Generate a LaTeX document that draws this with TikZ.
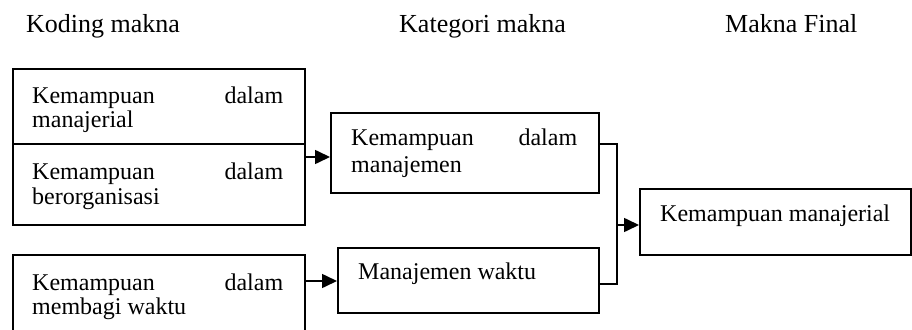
\documentclass[tikz,border=0pt]{standalone}
\usepackage{fontspec}
\setmainfont{Liberation Serif}
\usetikzlibrary{arrows.meta}
\begin{document}
\begin{tikzpicture}[x=1pt,y=-1pt,
  box/.style={draw,line width=1.6pt,inner sep=0pt,anchor=north west},
  txt/.style={anchor=base west,inner sep=0pt,font=\fontsize{24}{24}\selectfont},
  head/.style={anchor=base west,inner sep=0pt,font=\fontsize{26}{26}\selectfont},
  conn/.style={line width=1.6pt},
  arr/.style={conn,-{Triangle[length=15pt,width=14pt]}}]
\clip (0,0) rectangle (912,329);
\useasboundingbox (0,0) rectangle (912,329);
% headers
\node[head] (h1) at (26,33) {Koding makna};
\node[head] (h2) at (399,33) {Kategori makna};
\node[head] (h3) at (725,33) {Makna Final};
% boxes
\node[box,minimum width=292pt,minimum height=75pt] (a) at (12,68) {};
\node[box,minimum width=292pt,minimum height=81pt] (b) at (12,143) {};
\node[box,minimum width=292pt,minimum height=95pt] (c) at (12,254) {};
\node[box,minimum width=268pt,minimum height=80pt] (d) at (330,112) {};
\node[box,minimum width=261pt,minimum height=65pt] (e) at (337,247) {};
\node[box,minimum width=271pt,minimum height=66pt] (f) at (639,188) {};
% texts
\node[txt] (a1) at (32,103) {\hbox to 251pt{Kemampuan\hfill dalam}};
\node[txt] (a2) at (32,127) {manajerial};
\node[txt] (b1) at (32,179) {\hbox to 251pt{Kemampuan\hfill dalam}};
\node[txt] (b2) at (32,204) {berorganisasi};
\node[txt] (c1) at (32,290) {\hbox to 251pt{Kemampuan\hfill dalam}};
\node[txt] (c2) at (32,314) {membagi waktu};
\node[txt] (d1) at (351,145) {\hbox to 226pt{Kemampuan\hfill dalam}};
\node[txt] (d2) at (351,172) {manajemen};
\node[txt] (e1) at (358,279) {Manajemen waktu};
\node[txt] (f1) at (660,221) {Kemampuan manajerial};
% connectors
\coordinate (r1) at (0,157);
\coordinate (r2) at (0,281);
\coordinate (r3) at (0,144);
\coordinate (r4) at (0,284);
\coordinate (j) at (617,225);
\draw[arr] (b.east |- r1) -- (d.west |- r1);
\draw[arr] (c.east |- r2) -- (e.west |- r2);
\draw[conn] (d.east |- r3) -| (j) |- (e.east |- r4);
\draw[arr] (j) -- (f.west |- j);
\end{tikzpicture}
\end{document}
